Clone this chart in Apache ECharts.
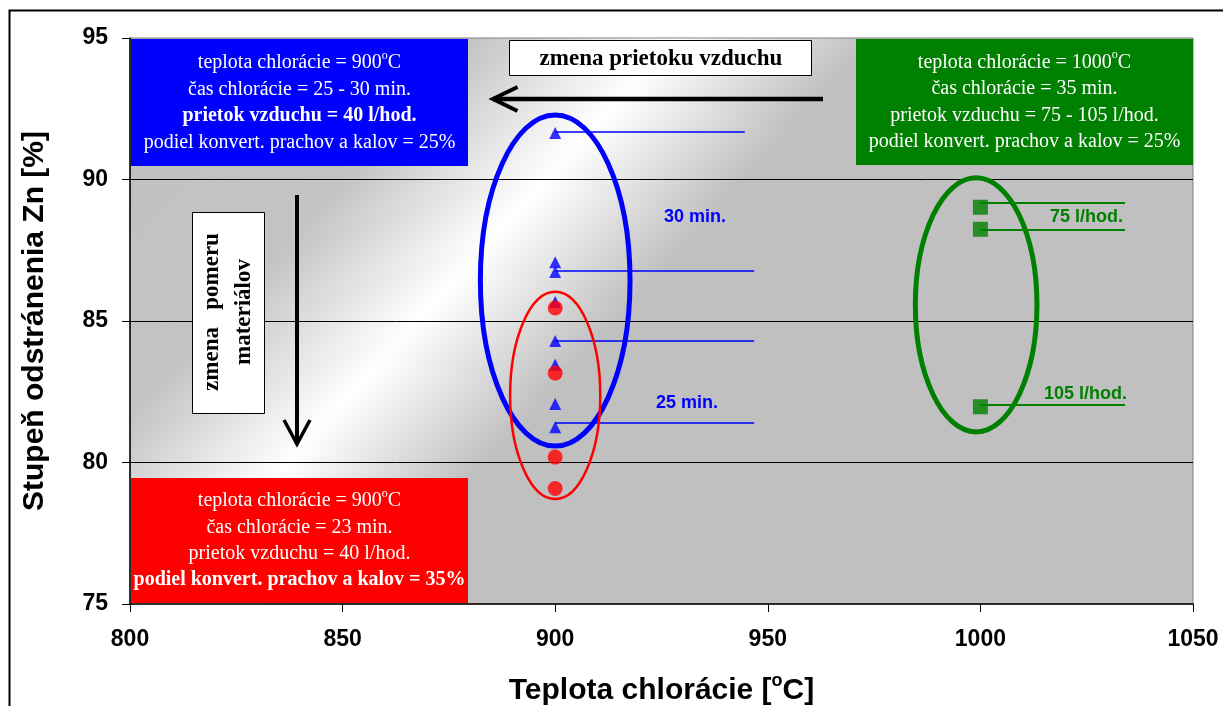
<!DOCTYPE html>
<html>
<head>
<meta charset="utf-8">
<script src="https://cdn.jsdelivr.net/npm/echarts@6/dist/echarts.min.js"></script>
<style>
html, body { margin: 0; padding: 0; background: #fff; }
#chart { width: 1223px; height: 706px; }
</style>
</head>
<body>
<div id="chart"></div>
<script>
// osi
var xMin = 800, xMax = 1050, xStep = 50;
var yMin = 75, yMax = 95, yStep = 5;

// 900 °C, 25 - 30 min. (modré trojuholníky)
var blueTemp = [900, 900, 900, 900, 900, 900, 900, 900];
var blueZn = [91.64, 87.08, 86.73, 85.67, 84.29, 83.45, 82.07, 81.25];
// 900 °C, 23 min. (červené body)
var redTemp = [900, 900, 900, 900];
var redZn = [85.46, 83.16, 80.19, 79.08];
// 1000 °C, 35 min. (zelené štvorce)
var greenTemp = [1000, 1000, 1000];
var greenZn = [89.02, 88.24, 81.97];

// vodiace čiary k popisom (y, koniec x)
var blueLeaderY = [91.68, 86.77, 84.29, 81.39];
var blueLeaderEnd = [944.6, 946.8, 946.8, 946.8];
var greenLeaderY = [89.18, 88.24, 82.04];
var greenLeaderEnd = [1034, 1034, 1034];

var SERIF = '"Liberation Serif", "Times New Roman", serif';
var SANS = '"Liberation Sans", Arial, sans-serif';

function pairs(xs, ys) {
  return ys.map(function (y, i) { return [xs[i], y]; });
}
function leaders(x0, ys, ends) {
  return ys.map(function (y, i) { return [{ coord: [x0, y] }, { coord: [ends[i], y] }]; });
}

var myChart = echarts.init(document.getElementById('chart'));

var option = {
  animation: false,
  backgroundColor: '#fff',
  grid: {
    left: 130, top: 38, width: 1063, height: 566,
    outerBoundsMode: 'none',
    containLabel: false,
    show: true,
    borderColor: '#808080',
    borderWidth: 1,
    backgroundColor: new echarts.graphic.LinearGradient(0, 0, 0.813, 1.389, [
      { offset: 0, color: '#c0c0c0' },
      { offset: 0.22, color: '#c4c4c4' },
      { offset: 0.345, color: '#ffffff' },
      { offset: 0.47, color: '#c0c0c0' },
      { offset: 1, color: '#c0c0c0' }
    ])
  },
  xAxis: {
    type: 'value',
    min: xMin, max: xMax, interval: xStep,
    name: 'Teplota chlorácie [{sup|o}C]',
    nameLocation: 'middle',
    nameGap: 72,
    nameTextStyle: {
      color: '#000', fontFamily: SANS, fontWeight: 'bold', fontSize: 30,
      rich: { sup: { fontFamily: SANS, fontWeight: 'bold', fontSize: 18, lineHeight: 18, padding: [0, 0, 20, 0] } }
    },
    axisLine: { lineStyle: { color: '#000', width: 1.5 } },
    axisTick: { show: true, length: 8, lineStyle: { color: '#000', width: 1 } },
    axisLabel: {
      color: '#000', fontFamily: SANS, fontWeight: 'bold', fontSize: 23, margin: 24,
      formatter: function (v) { return String(v); }
    },
    splitLine: { show: false }
  },
  yAxis: {
    type: 'value',
    min: yMin, max: yMax, interval: yStep,
    name: 'Stupeň odstránenia Zn [%]',
    nameLocation: 'middle',
    nameRotate: 90,
    nameGap: 80,
    nameTextStyle: { color: '#000', fontFamily: SANS, fontWeight: 'bold', fontSize: 30 },
    axisLine: { lineStyle: { color: '#000', width: 1.5 } },
    axisTick: { show: true, length: 8, lineStyle: { color: '#000', width: 1 } },
    axisLabel: { color: '#000', fontFamily: SANS, fontWeight: 'bold', fontSize: 23, margin: 22 },
    splitLine: { show: true, showMinLine: false, showMaxLine: false, lineStyle: { color: '#000', width: 1 } }
  },
  series: [
    {
      name: '25 - 30 min.',
      type: 'scatter',
      symbol: 'triangle',
      symbolSize: 12,
      itemStyle: { color: '#0000ff' },
      data: pairs(blueTemp, blueZn),
      z: 4,
      markLine: {
        silent: true,
        symbol: ['none', 'none'],
        label: { show: false },
        lineStyle: { color: '#0000ff', width: 1.5, type: 'solid' },
        data: leaders(blueTemp[0], blueLeaderY, blueLeaderEnd)
      }
    },
    {
      name: '23 min.',
      type: 'scatter',
      symbol: 'circle',
      symbolSize: 15,
      itemStyle: { color: '#ff0000' },
      data: pairs(redTemp, redZn),
      z: 5
    },
    {
      name: '35 min.',
      type: 'scatter',
      symbol: 'rect',
      symbolSize: 15,
      itemStyle: { color: '#008000' },
      data: pairs(greenTemp, greenZn),
      z: 4,
      markLine: {
        silent: true,
        symbol: ['none', 'none'],
        label: { show: false },
        lineStyle: { color: '#008000', width: 2, type: 'solid' },
        data: leaders(greenTemp[0], greenLeaderY, greenLeaderEnd)
      }
    }
  ]
};
myChart.setOption(option);

// elipsy okolo skupín bodov (v jednotkách osí)
var rings = [
  { cx: 900, cy: 86.43, rx: 17.6, ry: 5.85, color: '#0000ff', width: 5 },
  { cx: 900, cy: 82.37, rx: 10.6, ry: 3.66, color: '#ff0000', width: 2.5 },
  { cx: 999, cy: 85.57, rx: 14.3, ry: 4.49, color: '#008000', width: 5 }
];

function px(x, y) { return myChart.convertToPixel({ gridIndex: 0 }, [x, y]); }

var graphics = [];
rings.forEach(function (r) {
  var c = px(r.cx, r.cy);
  var e = px(r.cx + r.rx, r.cy - r.ry);
  graphics.push({
    type: 'ellipse', z: 20, silent: true,
    shape: { cx: c[0], cy: c[1], rx: e[0] - c[0], ry: e[1] - c[1] },
    style: { fill: null, stroke: r.color, lineWidth: r.width }
  });
});

function infoBox(x, y, w, h, color, text) {
  graphics.push({
    type: 'rect', z: 30, silent: true,
    shape: { x: x, y: y, width: w, height: h },
    style: { fill: color }
  });
  graphics.push({
    type: 'text', z: 31, silent: true,
    x: x + w / 2, y: y + h / 2,
    style: {
      text: text,
      fill: '#fff',
      font: '20px ' + SERIF,
      align: 'center', verticalAlign: 'middle',
      textAlign: 'center', textVerticalAlign: 'middle',
      lineHeight: 26.5,
      rich: {
        b: { fontFamily: SERIF, fontWeight: 'bold', fontSize: 20, lineHeight: 26.5, fill: '#fff', color: '#fff' },
        sup: { fontFamily: SERIF, fontSize: 12, lineHeight: 16, verticalAlign: 'top', fill: '#fff', color: '#fff' }
      }
    }
  });
}

infoBox(131, 39, 337, 127, '#0000ff',
  'teplota chlorácie = 900{sup|o}C\nčas chlorácie = 25 - 30 min.\n{b|prietok vzduchu = 40 l/hod.}\npodiel konvert. prachov a kalov = 25%');
infoBox(131, 478, 337, 125, '#ff0000',
  'teplota chlorácie = 900{sup|o}C\nčas chlorácie = 23 min.\nprietok vzduchu = 40 l/hod.\n{b|podiel konvert. prachov a kalov = 35%}');
infoBox(856, 39, 337, 126, '#008000',
  'teplota chlorácie = 1000{sup|o}C\nčas chlorácie = 35 min.\nprietok vzduchu = 75 - 105 l/hod.\npodiel konvert. prachov a kalov = 25%');

// biele rámčeky so šípkami
graphics.push({
  type: 'rect', z: 30, silent: true,
  shape: { x: 509.5, y: 40.5, width: 302, height: 35 },
  style: { fill: '#fff', stroke: '#000', lineWidth: 1 }
});
graphics.push({
  type: 'text', z: 31, silent: true, x: 661, y: 59,
  style: { text: 'zmena prietoku vzduchu', fill: '#000', font: 'bold 23px ' + SERIF,
    align: 'center', verticalAlign: 'middle', textAlign: 'center', textVerticalAlign: 'middle' }
});
graphics.push({
  type: 'polyline', z: 30, silent: true,
  shape: { points: [[823, 99], [493, 99]] },
  style: { stroke: '#000', lineWidth: 4.5 }
});
graphics.push({
  type: 'polyline', z: 30, silent: true,
  shape: { points: [[517.5, 87], [493, 99], [517.5, 111]] },
  style: { stroke: '#000', lineWidth: 4, fill: null }
});

graphics.push({
  type: 'rect', z: 30, silent: true,
  shape: { x: 192.5, y: 212.5, width: 72, height: 201 },
  style: { fill: '#fff', stroke: '#000', lineWidth: 1 }
});
graphics.push({
  type: 'text', z: 31, silent: true, x: 228, y: 312, rotation: Math.PI / 2,
  style: { text: 'zmena   pomeru\nmateriálov', fill: '#000', font: 'bold 23px ' + SERIF,
    lineHeight: 32,
    align: 'center', verticalAlign: 'middle', textAlign: 'center', textVerticalAlign: 'middle' }
});
graphics.push({
  type: 'polyline', z: 30, silent: true,
  shape: { points: [[297, 195], [297, 444]] },
  style: { stroke: '#000', lineWidth: 4 }
});
graphics.push({
  type: 'polyline', z: 30, silent: true,
  shape: { points: [[284, 420], [297, 444], [310, 420]] },
  style: { stroke: '#000', lineWidth: 3.5, fill: null }
});

// popisy pri bodoch
function note(x, y, text, color, align) {
  graphics.push({
    type: 'text', z: 31, silent: true, x: x, y: y,
    style: { text: text, fill: color, font: 'bold 18px ' + SANS,
      align: align, verticalAlign: 'middle', textAlign: align, textVerticalAlign: 'middle' }
  });
}
note(664, 217, '30 min.', '#0000ff', 'left');
note(656, 403, '25 min.', '#0000ff', 'left');
note(1123, 217, '75 l/hod.', '#008000', 'right');
note(1127, 394, '105 l/hod.', '#008000', 'right');

// vonkajší rámček grafu
graphics.push({
  type: 'rect', z: 0, silent: true,
  shape: { x: 9.5, y: 10.5, width: 1400, height: 900 },
  style: { fill: null, stroke: '#000', lineWidth: 2 }
});

myChart.setOption({ graphic: graphics });
window.onresize = myChart.resize;
</script>
</body>
</html>
